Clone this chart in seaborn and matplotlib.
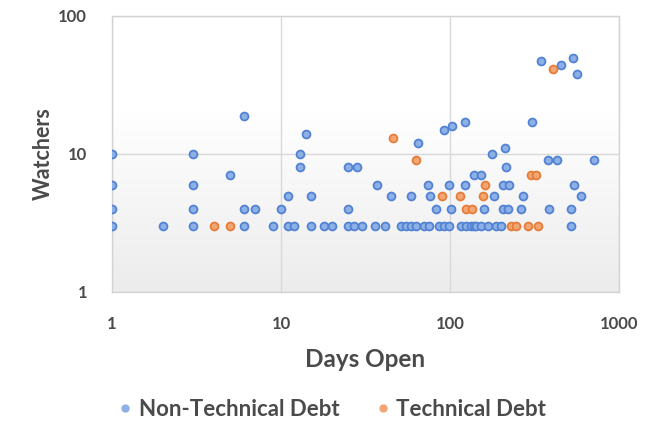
import numpy as np
import pandas as pd
import matplotlib
matplotlib.use("Agg")
import matplotlib.pyplot as plt
import seaborn as sns
from matplotlib.lines import Line2D
from matplotlib.ticker import FixedLocator, NullLocator, FixedFormatter

# Non-technical debt issues: days open / watchers
ntd_days = [1, 2, 3, 6, 9, 11, 12, 15, 18, 20, 25, 27, 30, 36, 41, 51, 55, 59, 63, 70, 75,
            86, 92, 99, 116, 124, 133, 139, 143, 153, 168, 188, 201, 522,
            1, 3, 6, 7, 10, 25, 83, 101, 159, 206, 221, 264, 387, 522,
            11, 15, 45, 59, 76, 183, 270, 599,
            1, 3, 37, 74, 98, 123, 206, 224, 545,
            5, 139, 153,
            13, 25, 28, 215,
            380, 430, 713,
            1, 3, 13, 177,
            213, 65, 14, 92, 103, 122, 305, 6,
            347, 456, 535, 567]
ntd_watchers = [3] * 34 + [4] * 14 + [5] * 8 + [6] * 9 + [7] * 3 + [8] * 4 + [9] * 3 + [10] * 4 + \
               [11, 12, 14, 15, 16, 17, 17, 19, 47, 44, 50, 38]

# Technical debt issues
td_days = [4, 5, 230, 246, 290, 333, 125, 135, 90, 115, 156, 161, 303, 324, 63, 46, 407]
td_watchers = [3, 3, 3, 3, 3, 3, 4, 4, 5, 5, 5, 6, 7, 7, 9, 13, 41]

df = pd.concat([
    pd.DataFrame({"days": ntd_days, "watchers": ntd_watchers, "type": "Non-Technical Debt"}),
    pd.DataFrame({"days": td_days, "watchers": td_watchers, "type": "Technical Debt"}),
])

plt.rcParams["font.family"] = ["Lato", "DejaVu Sans"]
text_col = "#4a4a4a"

fig = plt.figure(figsize=(6.54, 4.22), dpi=100)
ax = fig.add_axes([112 / 654, 1 - 292 / 422, (619 - 112) / 654, (292 - 16) / 422])

# gradient plot area (white at top, light grey at bottom)
grad = np.linspace(0, 1, 256).reshape(-1, 1)
gcmap = matplotlib.colors.LinearSegmentedColormap.from_list(
    "g", [(0, "#ffffff"), (0.35, "#ffffff"), (1, "#ececec")])
ax.imshow(grad, extent=[0, 1, 0, 1], transform=ax.transAxes, cmap=gcmap,
          aspect="auto", origin="upper", zorder=0)

ax.set_xscale("log")
ax.set_yscale("log")

face = {"Non-Technical Debt": "#8db1e6", "Technical Debt": "#f3a672"}
edge = {"Non-Technical Debt": "#5282d2", "Technical Debt": "#e57d3a"}
for t in ["Non-Technical Debt", "Technical Debt"]:
    sns.scatterplot(data=df[df["type"] == t], x="days", y="watchers", ax=ax,
                    color=face[t], edgecolor=edge[t], linewidth=1.3, s=32, zorder=3,
                    legend=False)

ax.set_xlim(1, 1000)
ax.set_ylim(1, 100)
ax.xaxis.set_major_locator(FixedLocator([1, 10, 100, 1000]))
ax.xaxis.set_major_formatter(FixedFormatter(["1", "10", "100", "1000"]))
ax.yaxis.set_major_locator(FixedLocator([1, 10, 100]))
ax.yaxis.set_major_formatter(FixedFormatter(["1", "10", "100"]))
ax.xaxis.set_minor_locator(NullLocator())
ax.yaxis.set_minor_locator(NullLocator())
ax.grid(True, color="#d9d9d9", linewidth=1.0, zorder=1)
ax.set_axisbelow(True)
for s in ax.spines.values():
    s.set_color("#d3d3d3")
    s.set_linewidth(1.0)
ax.tick_params(axis="both", length=0, labelsize=12, labelcolor=text_col)
ax.tick_params(axis="x", pad=17)
ax.tick_params(axis="y", pad=18)
for lab in ax.get_xticklabels() + ax.get_yticklabels():
    lab.set_fontweight("bold")

ax.set_xlabel("Days Open", fontsize=17.5, fontweight="bold", color=text_col, labelpad=12)
ax.set_ylabel("Watchers", fontsize=15.5, fontweight="bold", color=text_col)
ax.yaxis.set_label_coords(-0.114, 0.5)

handles = [Line2D([], [], marker="o", linestyle="", markersize=5,
                  markerfacecolor=face[t], markeredgecolor=face[t], label=t)
           for t in ["Non-Technical Debt", "Technical Debt"]]
leg = fig.legend(handles=handles, loc="center", bbox_to_anchor=(329 / 654, 1 - 409 / 422),
                 ncol=2, frameon=False, handletextpad=0.0, handlelength=1.2, columnspacing=1.35,
                 prop={"size": 16, "weight": "bold"})
for txt in leg.get_texts():
    txt.set_color(text_col)

fig.savefig("out.png", dpi=100)
